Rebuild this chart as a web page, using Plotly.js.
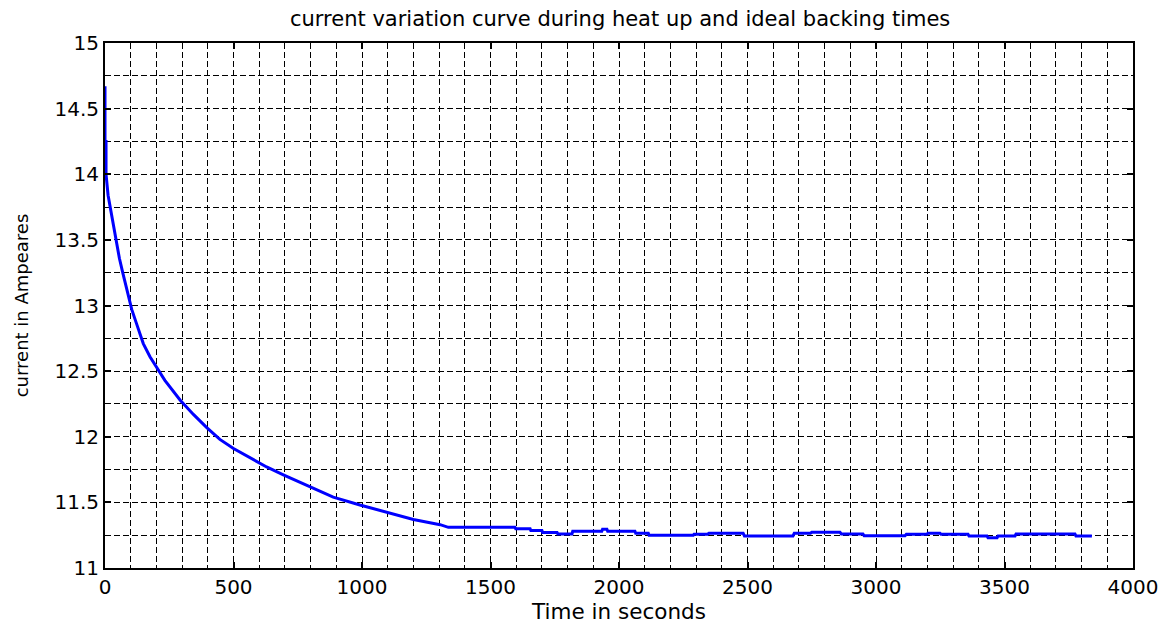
<!DOCTYPE html>
<html>
<head>
<meta charset="utf-8">
<script src="https://cdn.plot.ly/plotly-3.0.1.min.js"></script>
<style>
  html, body { margin: 0; padding: 0; background: #ffffff; }
  #chart { width: 1169px; height: 625px; }
</style>
</head>
<body>
<div id="chart"></div>
<script>
// Heat-up run: elapsed time (s) and measured current (A)
const timeSeconds = [
  0, 0, 4, 4, 12, 32, 43, 56, 69, 84, 104, 123, 149, 175, 201, 233, 292,
  344, 396, 447, 500, 564, 629, 694, 798, 888, 992, 1148, 1200, 1304, 1336,
  1595, 1598, 1654, 1657, 1700, 1703, 1759, 1762, 1817, 1820, 1933, 1936,
  1953, 1956, 2062, 2065, 2114, 2117, 2289, 2292, 2345, 2350, 2483, 2488,
  2677, 2682, 2745, 2750, 2860, 2865, 2949, 2954, 3113, 3118, 3198, 3202,
  3249, 3253, 3358, 3362, 3432, 3436, 3471, 3475, 3541, 3545, 3774, 3778,
  3840
];
const currentAmps = [
  14.67, 14.25, 14.25, 14.0, 13.84, 13.61, 13.50, 13.36, 13.25,
  13.12, 12.97, 12.86, 12.71, 12.61, 12.53, 12.43, 12.28, 12.17, 12.07,
  11.98, 11.91, 11.84, 11.77, 11.71, 11.62, 11.54, 11.48, 11.40, 11.37,
  11.33, 11.31, 11.31, 11.30, 11.30, 11.285, 11.285, 11.27, 11.27, 11.26,
  11.26, 11.28, 11.28, 11.295, 11.295, 11.28, 11.28, 11.265, 11.265, 11.25,
  11.25, 11.257, 11.257, 11.265, 11.265, 11.244, 11.244, 11.265, 11.265,
  11.272, 11.272, 11.26, 11.26, 11.245, 11.246, 11.257, 11.257, 11.265,
  11.265, 11.257, 11.257, 11.244, 11.244, 11.23, 11.23, 11.244, 11.244,
  11.26, 11.26, 11.244, 11.244
];

// Axis ticks and labels
const xTickValues = [0, 500, 1000, 1500, 2000, 2500, 3000, 3500, 4000];
const xTickLabels = ['0', '500', '1000', '1500', '2000', '2500', '3000', '3500', '4000'];
const yTickValues = [11, 11.5, 12, 12.5, 13, 13.5, 14, 14.5, 15];
const yTickLabels = ['11', '11.5', '12', '12.5', '13', '13.5', '14', '14.5', '15'];

const FONT = 'DejaVu Sans, Verdana, sans-serif';
const DASH = '6px,3px';

const trace = {
  x: timeSeconds,
  y: currentAmps,
  type: 'scatter',
  mode: 'lines',
  line: { color: '#0000ff', width: 3 },
  hoverinfo: 'x+y'
};

const axisCommon = {
  showline: true,
  linecolor: '#000000',
  linewidth: 2,
  mirror: 'ticks',
  ticks: 'inside',
  ticklen: 6,
  tickwidth: 2,
  tickcolor: '#000000',
  showgrid: true,
  gridcolor: '#000000',
  gridwidth: 1,
  griddash: DASH,
  zeroline: false,
  tickfont: { family: FONT, size: 20, color: '#000000' }
};

const layout = {
  width: 1169,
  height: 625,
  margin: { l: 105, r: 36, t: 43, b: 57 },
  paper_bgcolor: '#ffffff',
  plot_bgcolor: '#ffffff',
  showlegend: false,
  title: {
    text: 'current variation curve during heat up and ideal backing times',
    font: { family: FONT, size: 21, color: '#000000' },
    x: 0.5305,
    xanchor: 'center',
    y: 0.97,
    yanchor: 'middle'
  },
  xaxis: Object.assign({}, axisCommon, {
    range: [0, 4000],
    tickmode: 'array',
    tickvals: xTickValues,
    ticktext: xTickLabels,
    minor: { dtick: 100, showgrid: true, gridcolor: '#000000', gridwidth: 1, griddash: DASH, ticks: '' },
    title: { text: 'Time in seconds', font: { family: FONT, size: 21.5, color: '#000000' }, standoff: 2 }
  }),
  yaxis: Object.assign({}, axisCommon, {
    range: [11, 15],
    tickmode: 'array',
    tickvals: yTickValues,
    ticktext: yTickLabels,
    minor: { dtick: 0.25, showgrid: true, gridcolor: '#000000', gridwidth: 1, griddash: DASH, ticks: '' },
    title: { text: 'current in Ampeares', font: { family: FONT, size: 18, color: '#000000' }, standoff: 21 }
  })
};

Plotly.newPlot('chart', [trace], layout, { displayModeBar: false, staticPlot: true });
</script>
</body>
</html>
